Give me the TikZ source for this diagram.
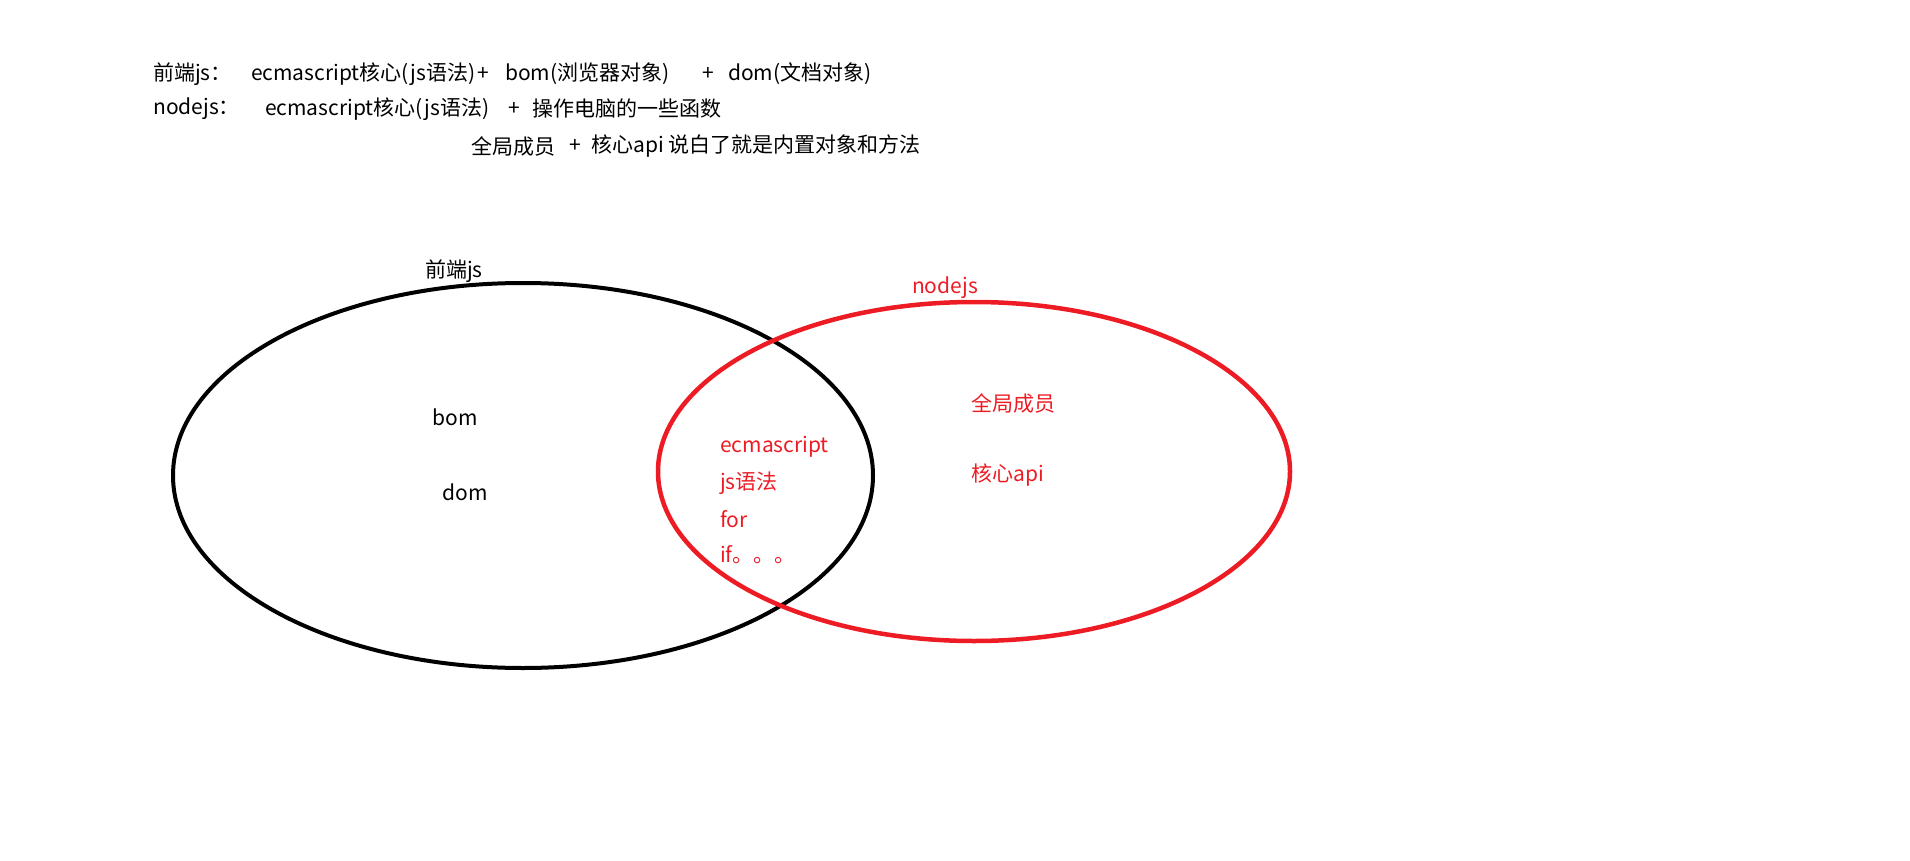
\documentclass[tikz,border=0pt]{standalone}
\usepackage{fontspec}
\setmainfont{Noto Sans CJK SC}
\definecolor{pred}{RGB}{237,28,36}
\begin{document}
\begin{tikzpicture}[x=1pt,y=-1pt,
  txt/.style={inner sep=0pt,font=\fontsize{21}{25}\selectfont,anchor=west},
  ctxt/.style={inner sep=0pt,font=\fontsize{21}{25}\selectfont},
  rtxt/.style={txt,text=pred},
  blackring/.style={draw=black,line width=4pt},
  redring/.style={draw=pred,line width=4.5pt}]
\useasboundingbox (0,0) rectangle (1910,861);
% header lines
\node[txt] (l1a) at (153,74) {前端js：};
\node[txt] (l1b) at (251,74) {ecmascript核心(js语法)};
\node[txt] (l1p) at (477,74) {+};
\node[txt] (l1c) at (505,74) {bom(浏览器对象)};
\node[txt] (l1d) at (702,74) {+};
\node[txt] (l1e) at (728,74) {dom(文档对象)};
\node[txt] (l2a) at (153,109) {nodejs：};
\node[txt] (l2b) at (265,109) {ecmascript核心(js语法)};
\node[txt] (l2c) at (508,109) {+};
\node[txt] (l2d) at (532,109) {操作电脑的一些函数};
\node[txt] (l3a) at (471,146) {全局成员};
\node[txt] (l3b) at (569,146) {+};
\node[txt] (l3c) at (591,146) {核心api 说白了就是内置对象和方法};
% ellipses
\draw[blackring] (523,475.5) ellipse [x radius=350pt, y radius=192.5pt];
\draw[redring] (974,471.5) ellipse [x radius=316pt, y radius=169.5pt];
% labels
\node[ctxt] (fe) at (454,271) {前端js};
\node[ctxt,text=pred] (nd) at (945,288) {nodejs};
\node[ctxt] (bom) at (455,417) {bom};
\node[ctxt] (dom) at (465,492) {dom};
\node[rtxt] (ecma) at (720,447) {ecmascript};
\node[rtxt] (jsyf) at (720,483) {js语法};
\node[rtxt] (for) at (720,519) {for};
\node[rtxt] (if) at (720,555) {if。。。};
\node[rtxt] (qj) at (971,403) {全局成员};
\node[rtxt] (hx) at (971,475) {核心api};
\end{tikzpicture}
\end{document}
